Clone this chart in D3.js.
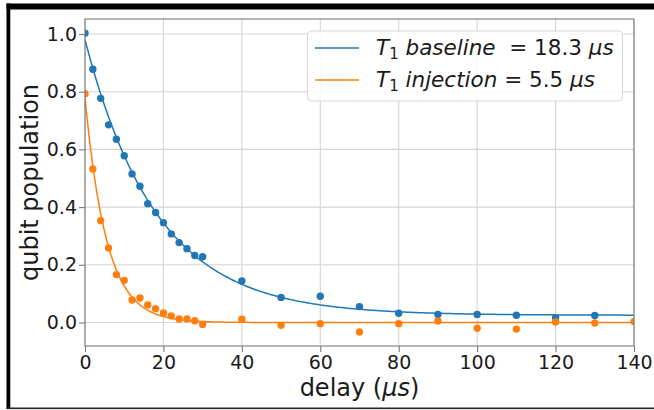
<!DOCTYPE html>
<html>
<head>
<meta charset="utf-8">
<script src="https://cdn.jsdelivr.net/npm/d3@7"></script>
<style>
  html, body { margin: 0; padding: 0; background: #fff; }
  svg { display: block; font-family: "DejaVu Sans", sans-serif; }
</style>
</head>
<body>
<svg id="chart" width="654" height="410"></svg>
<script>
// ---- data ----
const delaysBaseline = [0, 2, 4, 6, 8, 10, 12, 14, 16, 18, 20, 22, 24, 26, 28, 30, 40, 50, 60, 70, 80, 90, 100, 110, 120, 130];
const popBaseline    = [1.003, 0.878, 0.777, 0.685, 0.635, 0.578, 0.515, 0.472, 0.412, 0.381, 0.346, 0.307, 0.277, 0.256, 0.232, 0.228, 0.144, 0.087, 0.091, 0.055, 0.032, 0.028, 0.028, 0.025, 0.017, 0.024];
const delaysInjection = [0, 2, 4, 6, 8, 10, 12, 14, 16, 18, 20, 22, 24, 26, 28, 30, 40, 50, 60, 70, 80, 90, 100, 110, 120, 130, 140];
const popInjection    = [0.793, 0.532, 0.353, 0.258, 0.166, 0.146, 0.078, 0.085, 0.061, 0.048, 0.033, 0.023, 0.012, 0.012, 0.006, -0.007, 0.011, -0.010, -0.004, -0.033, -0.004, 0.005, -0.020, -0.023, 0.002, -0.002, 0.003];
// exponential fit parameters: A*exp(-t/T1) + C
const seriesNames = ["baseline", "injection"];
const namePadding = ["  ", " "];
const fitT1 = [18.3, 5.5];
const fitA  = [0.955, 0.78];
const fitC  = [0.025, 0.0];
const t1Labels = ["18.3", "5.5"];
const xTicks = [0, 20, 40, 60, 80, 100, 120, 140];
const yTicks = [0.0, 0.2, 0.4, 0.6, 0.8, 1.0];
const colors = ["#1f77b4", "#ff7f0e"];

// ---- layout ----
const W = 654, H = 410;
const L = 85, R = 634, T = 19, B = 346;
const svg = d3.select("#chart");

const x = d3.scaleLinear().domain([0, 140]).range([L, R]);
const y = d3.scaleLinear().domain([-0.0815, 1.052]).range([B, T]);

// outer frame (black border pieces of the original screenshot)
svg.append("rect").attr("x", 0).attr("y", 0).attr("width", W).attr("height", H).attr("fill", "#fff");
svg.append("rect").attr("x", 6.5).attr("y", 3.5).attr("width", W - 6.5).attr("height", 6).attr("fill", "#000");
svg.append("rect").attr("x", 6.5).attr("y", 3.5).attr("width", 3.8).attr("height", 405.5).attr("fill", "#000");
svg.append("rect").attr("x", 6.5).attr("y", 407.5).attr("width", W - 6.5).attr("height", 1.6).attr("fill", "#222");

// grid
const grid = svg.append("g");
grid.selectAll("line.gx").data(xTicks).join("line")
  .attr("x1", d => x(d)).attr("x2", d => x(d)).attr("y1", T).attr("y2", B)
  .attr("stroke", "#d4d4d4").attr("stroke-width", 1.1);
grid.selectAll("line.gy").data(yTicks).join("line")
  .attr("x1", L).attr("x2", R).attr("y1", d => y(d)).attr("y2", d => y(d))
  .attr("stroke", "#d4d4d4").attr("stroke-width", 1.1);

// clip
svg.append("clipPath").attr("id", "clip").append("rect")
  .attr("x", L).attr("y", T).attr("width", R - L).attr("height", B - T);
const plot = svg.append("g").attr("clip-path", "url(#clip)");

// fit curves
const tSamples = d3.range(0, 140.01, 0.5);
const line = d3.line().x(d => x(d[0])).y(d => y(d[1]));
[0, 1].forEach(i => {
  const pts = tSamples.map(t => [t, fitA[i] * Math.exp(-t / fitT1[i]) + fitC[i]]);
  plot.append("path").attr("d", line(pts)).attr("fill", "none")
    .attr("stroke", colors[i]).attr("stroke-width", 1.5);
});

// data points
const sets = [[delaysBaseline, popBaseline], [delaysInjection, popInjection]];
sets.forEach((s, i) => {
  plot.selectAll(null).data(d3.zip(s[0], s[1])).join("circle")
    .attr("cx", d => x(d[0])).attr("cy", d => y(d[1])).attr("r", 3.7)
    .attr("fill", colors[i]);
});

// spines
svg.append("rect").attr("x", L).attr("y", T).attr("width", R - L).attr("height", B - T)
  .attr("fill", "none").attr("stroke", "#7a7a7a").attr("stroke-width", 1.1);

// axes
const xAxis = svg.append("g").attr("transform", `translate(0,${B})`)
  .call(d3.axisBottom(x).tickValues(xTicks).tickFormat(d3.format("d")).tickSize(6).tickPadding(3.5));
const yAxis = svg.append("g").attr("transform", `translate(${L},0)`)
  .call(d3.axisLeft(y).tickValues(yTicks).tickFormat(d3.format(".1f")).tickSize(6).tickPadding(2));
[xAxis, yAxis].forEach(a => {
  a.select(".domain").remove();
  a.selectAll(".tick line").attr("stroke", "#7a7a7a").attr("stroke-width", 1.1);
  a.selectAll(".tick text").attr("fill", "#1a1a1a").attr("font-size", 19)
    .attr("font-family", "DejaVu Sans");
});

// axis labels
const xl = svg.append("text").attr("x", (L + R) / 2).attr("y", 396)
  .attr("text-anchor", "middle").attr("font-size", 24).attr("fill", "#1a1a1a");
xl.append("tspan").text("delay (");
xl.append("tspan").attr("font-style", "italic").text("μs");
xl.append("tspan").text(")");

svg.append("text").attr("transform", `translate(38,${(T + B) / 2}) rotate(-90)`)
  .attr("text-anchor", "middle").attr("font-size", 24).attr("fill", "#1a1a1a")
  .text("qubit population");

// legend
const lg = svg.append("g");
lg.append("rect").attr("x", 307.5).attr("y", 31).attr("width", 315).attr("height", 70)
  .attr("rx", 4).attr("fill", "#fff").attr("fill-opacity", 0.85)
  .attr("stroke", "#d6d6d6").attr("stroke-width", 1);
const rowY = [55, 87];
seriesNames.forEach((name, i) => {
  const by = rowY[i];
  lg.append("line").attr("x1", 315).attr("x2", 359).attr("y1", by - 7).attr("y2", by - 7)
    .attr("stroke", colors[i]).attr("stroke-width", 1.5);
  const t = lg.append("text").attr("x", 376).attr("y", by).attr("fill", "#1a1a1a")
    .attr("font-size", 21.5).style("white-space", "pre");
  t.append("tspan").attr("font-style", "italic").text("T");
  t.append("tspan").attr("font-size", 15).attr("dy", 4).text("1");
  t.append("tspan").attr("dy", -4).text(" ");
  t.append("tspan").attr("font-style", "italic").text(name);
  t.append("tspan").text(namePadding[i] + "= " + t1Labels[i] + " ");
  t.append("tspan").attr("font-style", "italic").text("μs");
});
</script>
</body>
</html>
